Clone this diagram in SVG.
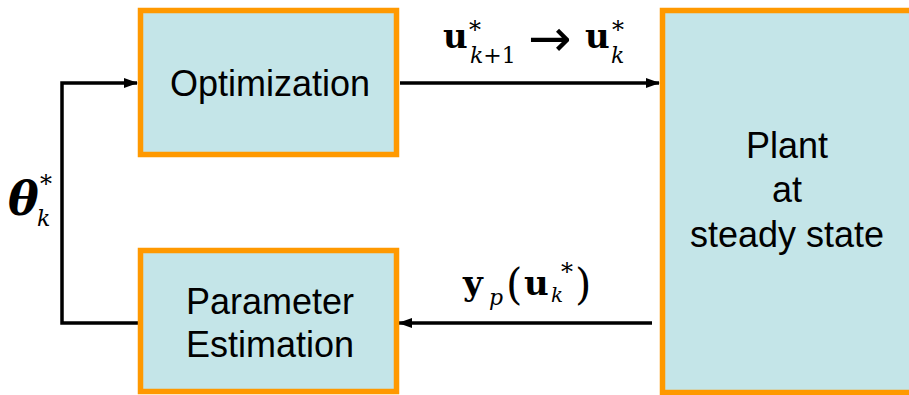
<svg xmlns="http://www.w3.org/2000/svg" width="909" height="395" viewBox="0 0 909 395">
<style>
.box{fill:#C4E5E8;stroke:#FF9900;stroke-width:5.5}
.lbl{font-family:"Liberation Sans",Arial,sans-serif;font-size:36px;fill:#000;text-anchor:middle}
.ln{fill:none;stroke:#000;stroke-width:3.5}
.m{font-family:"DejaVu Serif","Liberation Serif",serif;fill:#000}
.b{font-weight:bold}
.i{font-style:italic}
</style>
<defs>
<marker id="ah" markerWidth="14" markerHeight="10" refX="13" refY="5" orient="auto" markerUnits="userSpaceOnUse">
<path d="M0,0 L14,5 L0,10 Z" fill="#000"/>
</marker>
</defs>
<g id="connectors">
<path class="ln" d="M400,83 H659" marker-end="url(#ah)"/>
<path class="ln" d="M652,323 H399" marker-end="url(#ah)"/>
<path class="ln" d="M138,323 H62 V83 H137" marker-end="url(#ah)"/>
</g>
<g id="optimization">
<rect class="box" x="140.5" y="10.5" width="256" height="144"/>
<text class="lbl" x="270" y="96">Optimization</text>
</g>
<g id="parameter-estimation">
<rect class="box" x="140.5" y="250.5" width="256" height="141"/>
<text class="lbl" x="270" y="314">Parameter</text>
<text class="lbl" x="270" y="357">Estimation</text>
</g>
<g id="plant">
<rect class="box" x="662.5" y="10.5" width="260" height="382"/>
<text class="lbl" x="787" y="158">Plant</text>
<text class="lbl" x="787" y="202">at</text>
<text class="lbl" x="787" y="247">steady state</text>
</g>
<g id="labels">
<text class="m b" x="443" y="48" font-size="34">u</text>
<text class="m" x="469" y="38" font-size="24">*</text>
<text class="m" x="470" y="63" font-size="22"><tspan class="i">k</tspan>+1</text>
<text x="528" y="56" font-size="52" font-family="DejaVu Sans,sans-serif">→</text>
<text class="m b" x="585" y="48" font-size="34">u</text>
<text class="m" x="612" y="38" font-size="24">*</text>
<text class="m i" x="611" y="63" font-size="22">k</text>

<text class="m b" x="463" y="295" font-size="34">y</text>
<text class="m i" x="489" y="305" font-size="22">p</text>
<text class="m" x="506" y="299" font-size="42">(</text>
<text class="m b" x="524" y="295" font-size="34">u</text>
<text class="m" x="561" y="280" font-size="24">*</text>
<text class="m i" x="551" y="302" font-size="20">k</text>
<text class="m" x="575" y="299" font-size="42">)</text>

<text class="m b i" x="8" y="215" font-size="46">θ</text>
<text class="m" x="40" y="192" font-size="24">*</text>
<text class="m i" x="37" y="226" font-size="22">k</text>
</g>
</svg>
